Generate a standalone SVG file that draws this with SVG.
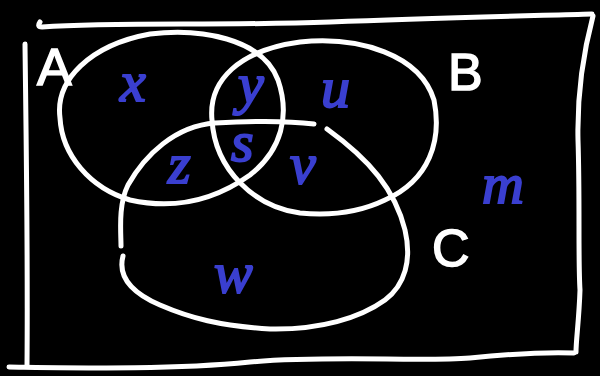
<svg xmlns="http://www.w3.org/2000/svg" width="600" height="376" viewBox="0 0 600 376">
<style>
.ln{fill:none;stroke:#fff;stroke-width:5;stroke-linecap:round;stroke-linejoin:round}
.set{font-family:"Liberation Sans",Arial,sans-serif;fill:#fff;stroke:#fff;stroke-width:1.5;font-size:52px}
.el{font-family:"Liberation Serif","Times New Roman",serif;font-style:italic;fill:#3a3fd0;stroke:#3a3fd0;stroke-width:2;font-size:58px}
</style>
<rect width="600" height="376" fill="#000"/>
<g id="frame">
<path class="ln" d="M25,44 C26,130 28,250 27,366"/>
<path class="ln" d="M40,22 C38,25 38,27 42,27 C120,22 220,26 330,22 C430,18 520,16 592,14"/>
<path class="ln" d="M593,16 C584,50 577,95 578,140 C580,200 578,260 580,290 C579,320 576,340 576,352"/>
<path class="ln" d="M9,367 C80,368 170,370 250,362 C330,355 420,362 470,358 C520,353 550,352 574,353"/>
</g>
<g id="setA">
<path class="ln" d="M60,118 C55,80 90,45 150,34 C200,28 262,38 278,80 C290,115 282,150 250,175 C215,200 175,210 130,200 C90,188 62,155 60,118 Z"/>
<text class="set" x="37" y="85">A</text>
</g>
<g id="setB">
<path class="ln" d="M212,120 C208,80 240,50 300,42 C360,36 420,55 434,100 C442,140 430,180 385,200 C360,212 330,216 300,213 C255,207 215,170 212,120 Z"/>
<text class="set" x="448" y="90">B</text>
</g>
<g id="setC">
<path class="ln" d="M314,124 C290,121 250,121 215,123 C175,126 145,155 128,185 C118,205 121,232 121,246"/>
<path class="ln" d="M123,256 C118,275 130,292 160,305 C190,318 220,326 270,329 C320,330 360,318 385,300 C405,285 412,260 405,230 C395,190 370,160 327,129"/>
<text class="set" x="432" y="266">C</text>
</g>
<g id="elements">
<text class="el" x="120" y="101">x</text>
<text class="el" x="238" y="103" font-size="50">y</text>
<text class="el" x="321" y="107">u</text>
<text class="el" x="168" y="183">z</text>
<text class="el" x="231" y="161" font-size="38">s</text>
<text class="el" x="290" y="183">v</text>
<text class="el" x="214" y="292" font-size="66">w</text>
<text class="el" x="482" y="203">m</text>
</g>
</svg>
